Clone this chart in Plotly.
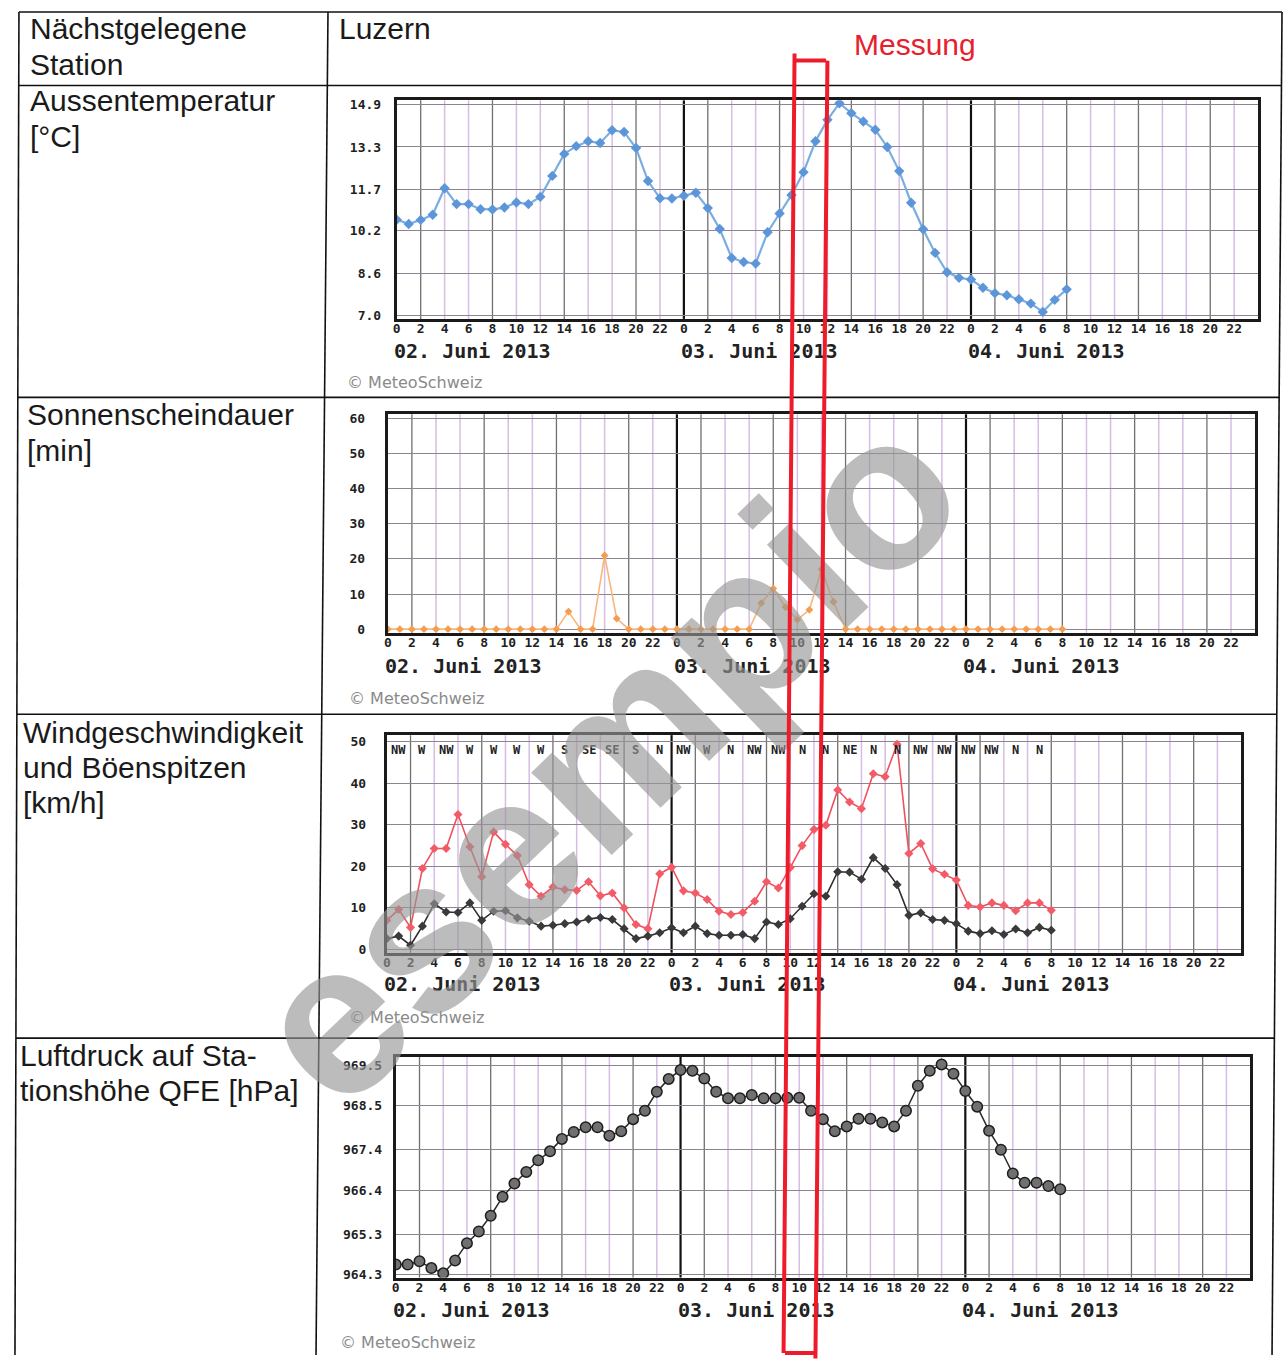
import plotly.graph_objects as go

# ---------------- data ----------------
hours = list(range(57))  # 02. Juni 0h .. 04. Juni 8h

temperature = [10.59, 10.43, 10.58, 10.77, 11.76, 11.17, 11.17, 10.98, 10.97, 11.04,
               11.23, 11.17, 11.44, 12.22, 13.04, 13.33, 13.51, 13.45, 13.92, 13.86,
               13.26, 12.03, 11.39, 11.38,
               11.48, 11.59, 11.02, 10.24, 9.16, 9.01, 8.95, 10.12, 10.82, 11.51,
               12.36, 13.51, 14.31, 14.93, 14.56, 14.25, 13.94, 13.30, 12.40, 11.22,
               10.23, 9.35, 8.63, 8.42,
               8.36, 8.05, 7.85, 7.77, 7.62, 7.46, 7.15, 7.60, 7.99]

sunshine = [0, 0, 0, 0, 0, 0, 0, 0, 0, 0, 0, 0, 0, 0, 0, 5, 0, 0, 21, 3, 0, 0, 0, 0,
            0, 0, 0, 0, 0, 0, 0, 7.4, 11.6, 6.3, 2.7, 5.5, 17, 7.8, 0, 0, 0, 0, 0, 0, 0, 0, 0, 0,
            0, 0, 0, 0, 0, 0, 0, 0, 0]

gusts = [7.0, 9.6, 5.3, 19.5, 24.3, 24.3, 32.5, 24.7, 17.5, 28.3, 25.3, 22.6, 15.6, 12.8,
         15.0, 14.4, 14.2, 16.3, 12.9, 13.6, 10.0, 6.0, 5.0, 18.2,
         19.8, 14.1, 13.6, 12.0, 9.2, 8.4, 8.9, 11.6, 16.3, 14.8, 19.7, 25.0, 28.9, 29.9,
         38.4, 35.5, 33.9, 42.3, 41.6, 49.4, 23.1, 25.5, 19.4, 18.1,
         16.7, 10.6, 10.2, 11.2, 10.6, 9.3, 11.2, 11.2, 9.4]

wind_mean = [2.6, 3.2, 1.0, 5.6, 11.0, 9.0, 8.9, 11.2, 7.0, 9.2, 9.3, 7.6, 6.8, 5.6,
             5.8, 6.2, 6.6, 7.3, 7.7, 7.2, 5.0, 2.6, 3.2, 4.0,
             5.2, 4.0, 5.6, 3.8, 3.4, 3.4, 3.6, 2.6, 6.6, 6.0, 7.4, 10.4, 13.4, 12.8,
             18.7, 18.6, 16.9, 22.1, 19.5, 15.6, 8.2, 8.8, 7.2, 7.0,
             6.2, 4.4, 3.8, 4.5, 3.6, 4.9, 4.0, 5.3, 4.6]

direction_hours = list(range(1, 56, 2))
directions = ["NW", "W", "NW", "W", "W", "W", "W", "S", "SE", "SE", "S", "N", "NW", "W",
              "N", "NW", "NW", "N", "N", "NE", "N", "N", "NW", "NW", "NW", "NW", "N", "N"]

pressure = [964.55, 964.55, 964.63, 964.46, 964.33, 964.65, 965.08, 965.37, 965.76, 966.23,
            966.56, 966.85, 967.14, 967.36, 967.67, 967.84, 967.96, 967.96, 967.75, 967.86,
            968.16, 968.37, 968.84, 969.16,
            969.38, 969.36, 969.17, 968.84, 968.68, 968.68, 968.76, 968.68, 968.68, 968.69,
            968.69, 968.37, 968.16, 967.86, 967.98, 968.17, 968.17, 968.08, 967.98, 968.37,
            968.99, 969.36, 969.52, 969.29,
            968.86, 968.47, 967.87, 967.40, 966.81, 966.58, 966.58, 966.50, 966.42]

x_tickvals = list(range(0, 72, 2))
x_ticktext = [str(h % 24) for h in x_tickvals]
day_starts = [0, 24, 48]
day_labels = ["02. Juni 2013", "03. Juni 2013", "04. Juni 2013"]

temp_ticks = [7.0, 8.6, 10.2, 11.7, 13.3, 14.9]
temp_ticktext = ["7.0", "8.6", "10.2", "11.7", "13.3", "14.9"]
sun_ticks = [0, 10, 20, 30, 40, 50, 60]
wind_ticks = [0, 10, 20, 30, 40, 50]
press_ticks = [964.3, 965.3, 966.4, 967.4, 968.5, 969.5]
press_ticktext = ["964.3", "965.3", "966.4", "967.4", "968.5", "969.5"]

# ---------------- layout helpers ----------------
W, H = 1285, 1360
def fx(x): return x / W
def fy(y): return 1 - y / H

MONO = "DejaVu Sans Mono"
SANS = "Liberation Sans"

charts = [
    dict(x0=394, x1=1258, ytop=97, ybot=317, v0=7.0, p0=314.0, scale=213.3 / 7.9,
         tv=temp_ticks, tt=temp_ticktext, stand=10, day_y=349, copy=(342, 381)),
    dict(x0=385, x1=1255, ytop=413, ybot=633, v0=0.0, p0=629.3, scale=212.0 / 60,
         tv=sun_ticks, tt=[str(v) for v in sun_ticks], stand=17, day_y=666, copy=(344, 699)),
    dict(x0=384, x1=1241, ytop=736, ybot=955, v0=0.0, p0=951.7, scale=209.0 / 50,
         tv=wind_ticks, tt=[str(v) for v in wind_ticks], stand=15, day_y=987, copy=(344, 1020)),
    dict(x0=393, x1=1250, ytop=1060, ybot=1282, v0=964.3, p0=1279.0, scale=210.7 / 5.2,
         tv=press_ticks, tt=press_ticktext, stand=8, day_y=1315, copy=(335, 1347)),
]

fig = go.Figure()

# traces
fig.add_trace(go.Scatter(x=hours, y=temperature, mode="lines+markers", xaxis="x", yaxis="y",
                         line=dict(color="#7aaee2", width=2.2),
                         marker=dict(symbol="diamond", size=8, color="#5d96d8")))
fig.add_trace(go.Scatter(x=hours, y=sunshine, mode="lines+markers", xaxis="x2", yaxis="y2",
                         line=dict(color="#f8b67c", width=1.6),
                         marker=dict(symbol="diamond", size=6, color="#f49d52")))
fig.add_trace(go.Scatter(x=hours, y=gusts, mode="lines+markers", xaxis="x3", yaxis="y3",
                         line=dict(color="#f0505c", width=1.6),
                         marker=dict(symbol="diamond", size=7, color="#f25c68")))
fig.add_trace(go.Scatter(x=hours, y=wind_mean, mode="lines+markers", xaxis="x3", yaxis="y3",
                         line=dict(color="#2e2e2e", width=1.6),
                         marker=dict(symbol="diamond", size=7, color="#3a3a3a")))
fig.add_trace(go.Scatter(x=hours, y=pressure, mode="lines+markers", xaxis="x4", yaxis="y4",
                         line=dict(color="#2a2a2a", width=1.5),
                         marker=dict(symbol="circle", size=10.5, color="#707070",
                                     line=dict(color="#1e1e1e", width=1.5))))
for tr in fig.data:
    tr.showlegend = False
    tr.hoverinfo = "skip"

shapes = []
annotations = []
layout = {}
for i, c in enumerate(charts, start=1):
    sx = "" if i == 1 else str(i)
    ybot_v = c["v0"] + (c["p0"] - c["ybot"]) / c["scale"]
    ytop_v = c["v0"] + (c["p0"] - c["ytop"]) / c["scale"]
    layout["xaxis" + sx] = dict(
        domain=[fx(c["x0"]), fx(c["x1"])], range=[0, 72], anchor="y" + sx,
        tickmode="array", tickvals=x_tickvals, ticktext=x_ticktext,
        tickfont=dict(family=MONO, size=13, color="#1f1f1f", weight="bold"),
        ticklabelstandoff=-4,
        showgrid=False,
        showline=True, linecolor="#1a1a1a", linewidth=2.5, mirror=True,
        zeroline=False, ticks="", fixedrange=True)
    layout["yaxis" + sx] = dict(
        domain=[fy(c["ybot"]), fy(c["ytop"])], range=[ybot_v, ytop_v], anchor="x" + sx,
        tickmode="array", tickvals=c["tv"], ticktext=c["tt"],
        tickfont=dict(family=MONO, size=13, color="#1f1f1f", weight="bold"),
        ticklabelstandoff=c["stand"],
        showgrid=True, gridcolor="#8e8392", gridwidth=1,
        showline=True, linecolor="#1a1a1a", linewidth=3, mirror=True,
        zeroline=False, ticks="", fixedrange=True)
    # vertical grid lines (lavender, some darker) and day boundaries
    for h in range(2, 72, 2):
        if h in day_starts:
            col, wd = "#111111", 2.2
        elif h % 6 == 2:
            col, wd = "#707070", 1.3
        else:
            col, wd = "#d6bde3", 1.5
        shapes.append(dict(type="line", xref="x" + sx, yref="y" + sx + " domain",
                           x0=h, x1=h, y0=0, y1=1, layer="below",
                           line=dict(color=col, width=wd)))
    for d, lab in zip(day_starts, day_labels):
        annotations.append(dict(x=d, xref="x" + sx, y=fy(c["day_y"]), yref="paper",
                                text=lab, showarrow=False, xanchor="left", yanchor="middle",
                                xshift=-5,
                                font=dict(family=MONO, size=20, color="#222", weight="bold")))
    annotations.append(dict(x=fx(c["copy"][0]), y=fy(c["copy"][1]), xref="paper", yref="paper",
                            text="© MeteoSchweiz", showarrow=False, xanchor="left",
                            yanchor="middle",
                            font=dict(family="DejaVu Sans", size=16, color="#8a8a8a")))

# wind direction labels
for h, d in zip(direction_hours, directions):
    annotations.append(dict(x=h, xref="x3", y=fy(751), yref="paper", text=d, showarrow=False,
                            xanchor="center", yanchor="middle",
                            font=dict(family=MONO, size=12, color="#222", weight="bold")))

# table text
table_text = [
    ("Nächstgelegene", 24, 25), ("Station", 24, 61), ("Luzern", 334, 25),
    ("Aussentemperatur", 24, 97), ("[°C]", 24, 133),
    ("Sonnenscheindauer", 21, 413), ("[min]", 21, 449),
    ("Windgeschwindigkeit", 17, 733), ("und Böenspitzen", 17, 769), ("[km/h]", 17, 804),
    ("Luftdruck auf Sta-", 14, 1059), ("tionshöhe QFE [hPa]", 14, 1094),
]
for t, x, y in table_text:
    annotations.append(dict(x=fx(x), y=fy(y), xref="paper", yref="paper", text=t,
                            showarrow=False, xanchor="left", yanchor="middle",
                            font=dict(family=SANS, size=30, color="#1a1a1a")))
annotations.append(dict(x=fx(851), y=fy(41), xref="paper", yref="paper", text="Messung",
                        showarrow=False, xanchor="left", yanchor="middle",
                        font=dict(family=SANS, size=30, color="#e8202e")))

# table lines
def seg(x0, y0, x1, y1, w=1.6, color="#111"):
    shapes.append(dict(type="line", xref="paper", yref="paper", x0=fx(x0), y0=fy(y0),
                       x1=fx(x1), y1=fy(y1), layer="above", line=dict(color=color, width=w)))

seg(15, 8, 1282, 8)
seg(15, 8, 11, 1360)
seg(1282, 8, 1272, 1360)
seg(325, 8, 313, 1360)
seg(15, 82, 1281, 82)
seg(14, 396, 1280, 396)
seg(13, 715, 1277, 715)
seg(12, 1041, 1275, 1041)

# watermark
annotations.append(dict(x=fx(603), y=fy(758), xref="paper", yref="paper", text="esempio",
                        showarrow=False, textangle=-44, xanchor="center", yanchor="middle",
                        font=dict(family=SANS, size=218, color="rgba(150,150,150,0.64)",
                                  weight="bold")))

# red "Messung" box drawn on top (arrow-less annotation lines)
box = [(793, 57), (826, 57), (814, 1358), (782, 1358)]
for k in range(4):
    (hx, hy), (tx, ty) = box[k], box[(k + 1) % 4]
    annotations.append(dict(x=fx(hx), y=fy(hy), xref="paper", yref="paper", text="",
                            showarrow=True, arrowhead=0, arrowwidth=4, arrowcolor="#ee1c2a",
                            ax=tx - hx, ay=ty - hy, standoff=0, startstandoff=0))

fig.update_layout(
    width=W, height=H, margin=dict(l=0, r=0, t=0, b=0),
    paper_bgcolor="white", plot_bgcolor="white",
    shapes=shapes, annotations=annotations, showlegend=False, **layout)

fig.write_html("out.html", config={"displayModeBar": False},
               post_script="document.body.style.margin='0';document.body.style.padding='0';")
